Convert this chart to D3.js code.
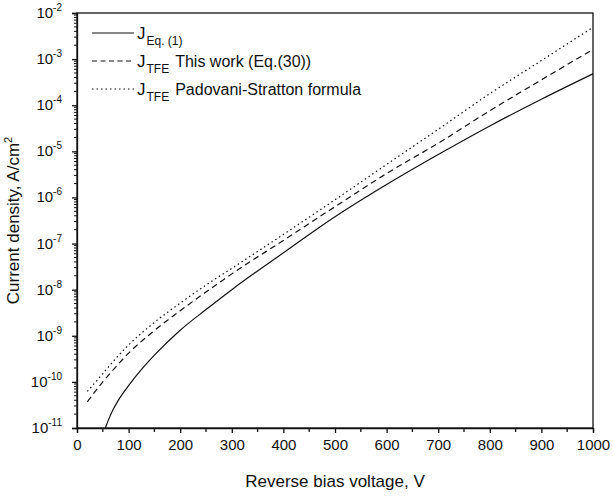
<!DOCTYPE html>
<html>
<head>
<meta charset="utf-8">
<script src="https://cdn.jsdelivr.net/npm/d3@7"></script>
<style>
  body { margin: 0; background: #fff; }
  text { font-family: "Liberation Sans", Arial, sans-serif; fill: #111; }
</style>
</head>
<body>
<div id="chart"></div>
<script>
// voltages (V) and current densities (A/cm^2)
var vEq1 = [55, 60, 70, 80, 100, 125, 150, 200, 250, 300, 400, 500, 600, 700, 800, 900, 1000];
var jEq1 = [1.0e-11, 1.41e-11, 2.51e-11, 3.98e-11, 8.3e-11, 1.86e-10, 3.8e-10, 1.32e-9, 3.7e-9, 1.0e-8,
            6.3e-8, 3.8e-7, 1.9e-6, 8.5e-6, 3.55e-5, 1.35e-4, 4.8e-4];

var vTfe = [20, 50, 75, 100, 150, 200, 250, 300, 400, 500, 600, 700, 800, 900, 1000];
var jTfe = [3.7e-11, 1.0e-10, 2.1e-10, 4.2e-10, 1.3e-9, 3.5e-9, 8.9e-9, 2.2e-8,
            1.17e-7, 6.3e-7, 3.3e-6, 1.5e-5, 7.6e-5, 3.55e-4, 1.62e-3];

var vPs = [20, 50, 75, 100, 150, 200, 250, 300, 400, 500, 600, 700, 800, 900, 1000];
var jPs = [6.2e-11, 1.51e-10, 3.2e-10, 6.3e-10, 1.95e-9, 5.1e-9, 1.26e-8, 2.9e-8,
           1.58e-7, 8.9e-7, 5.2e-6, 3.0e-5, 1.78e-4, 9.3e-4, 4.9e-3];

var xTicks = [0, 100, 200, 300, 400, 500, 600, 700, 800, 900, 1000];
var yExps = [-2, -3, -4, -5, -6, -7, -8, -9, -10, -11];

var margin = {top: 13, right: 20, bottom: 69, left: 77},
    width = 613 - margin.left - margin.right,
    height = 497 - margin.top - margin.bottom;

var svg = d3.select("#chart")
  .append("svg")
    .attr("width", 613)
    .attr("height", 497)
  .append("g")
    .attr("transform", "translate(" + margin.left + "," + margin.top + ")");

var x = d3.scaleLinear().domain([0, 1000]).range([0, width]);
var y = d3.scaleLog().domain([1e-11, 1e-2]).range([height, 0]);

// frame
svg.append("rect")
  .attr("width", width).attr("height", height)
  .attr("fill", "none").attr("stroke", "#111").attr("stroke-width", 1.3);

// x axis: major + minor ticks outside
var xMinor = d3.range(50, 1000, 100);
svg.append("g").selectAll("line").data(xMinor).enter().append("line")
  .attr("x1", d => x(d)).attr("x2", d => x(d))
  .attr("y1", height).attr("y2", height + 4)
  .attr("stroke", "#111").attr("stroke-width", 1.3);

var xAxis = svg.append("g")
  .attr("transform", "translate(0," + height + ")")
  .call(d3.axisBottom(x).tickValues(xTicks).tickSize(5).tickPadding(6).tickFormat(d3.format("d")));
xAxis.select(".domain").attr("stroke-width", 1.3).attr("stroke", "#111");
xAxis.selectAll(".tick line").attr("stroke-width", 1.3).attr("stroke", "#111");
xAxis.selectAll("text").style("font-size", "15px").attr("fill", "#111")
  .style("font-family", "'Liberation Sans', Arial, sans-serif");

// y axis: decades + minor ticks
var yMinor = [];
for (var e = -11; e < -2; e++) {
  for (var m = 2; m <= 9; m++) yMinor.push(m * Math.pow(10, e));
}
svg.append("g").selectAll("line").data(yMinor).enter().append("line")
  .attr("x1", 0).attr("x2", -3)
  .attr("y1", d => y(d)).attr("y2", d => y(d))
  .attr("stroke", "#111").attr("stroke-width", 1);

var yAxis = svg.append("g")
  .call(d3.axisLeft(y).tickValues(yExps.map(e => Math.pow(10, e))).tickSize(5).tickFormat(""));
yAxis.select(".domain").attr("stroke-width", 1.3).attr("stroke", "#111");
yAxis.selectAll(".tick line").attr("stroke-width", 1.3).attr("stroke", "#111");

var yLab = svg.append("g").selectAll("text").data(yExps).enter().append("text")
  .attr("x", -15)
  .attr("y", d => y(Math.pow(10, d)) + 5)
  .attr("text-anchor", "end")
  .style("font-size", "15px");
yLab.append("tspan").text("10");
yLab.append("tspan").attr("dy", -7).style("font-size", "10px").text(d => "-" + (-d));

// axis titles
svg.append("text")
  .attr("x", width / 2).attr("y", height + 59)
  .attr("text-anchor", "middle")
  .style("font-size", "17px")
  .text("Reverse bias voltage, V");

var yt = svg.append("text")
  .attr("transform", "translate(-58," + (height / 2) + ") rotate(-90)")
  .attr("text-anchor", "middle")
  .style("font-size", "17px");
yt.append("tspan").text("Current density, A/cm");
yt.append("tspan").attr("dy", -7).style("font-size", "11px").text("2");

// curves
var series = [
  {v: vEq1, j: jEq1, dash: null},
  {v: vTfe, j: jTfe, dash: "6,4"},
  {v: vPs, j: jPs, dash: "1.5,3"}
];
var line = d3.line()
  .x(d => x(d[0]))
  .y(d => y(d[1]))
  .curve(d3.curveMonotoneX);

series.forEach(function(s) {
  svg.append("path")
    .datum(d3.zip(s.v, s.j))
    .attr("fill", "none")
    .attr("stroke", "#111")
    .attr("stroke-width", 1.2)
    .attr("stroke-dasharray", s.dash)
    .attr("d", line);
});

// legend
var legend = [
  {sub: "Eq. (1)", rest: "", dash: null},
  {sub: "TFE", rest: "This work (Eq.(30))", dash: "5,3.5"},
  {sub: "TFE", rest: "Padovani-Stratton formula", dash: "1.5,3"}
];
var lg = svg.append("g").attr("transform", "translate(15,20)");
legend.forEach(function(d, i) {
  var yy = i * 28;
  lg.append("line")
    .attr("x1", 0).attr("x2", 42).attr("y1", yy).attr("y2", yy)
    .attr("stroke", "#111").attr("stroke-width", 1.2)
    .attr("stroke-dasharray", d.dash);
  var t = lg.append("text").attr("x", 45).attr("y", yy + 6).style("font-size", "17px");
  t.append("tspan").text("J");
  t.append("tspan").attr("dx", 1).attr("dy", 6).style("font-size", "12px").text(d.sub);
  if (d.rest) t.append("tspan").attr("dx", 6).attr("dy", -6).style("font-size", "16px").text(d.rest);
});
</script>
</body>
</html>
